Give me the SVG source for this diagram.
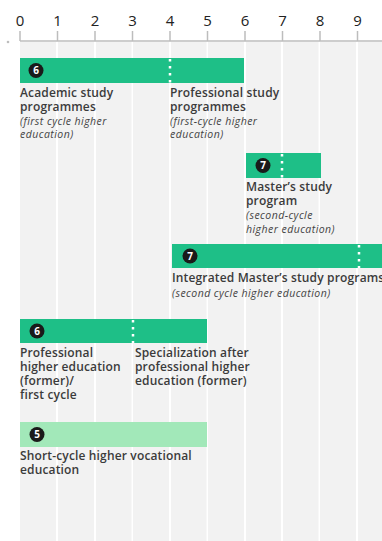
<svg xmlns="http://www.w3.org/2000/svg" width="382" height="541" viewBox="0 0 382 541">
<style>
.col{fill:#f2f2f2}
.tick{stroke:#bdbdbd;stroke-width:1.5}
.tl{font-family:"Open Sans","Liberation Sans",sans-serif;font-size:15px;fill:#222;text-anchor:middle}
.bar{fill:#1ebf87}
.bar2{fill:#a2e8b9}
.dot{stroke:#fff;stroke-width:2.5;stroke-dasharray:2.5 4.5}
.bc{fill:#1a1a1a}
.bn{font-family:"Open Sans","Liberation Sans",sans-serif;font-size:10px;font-weight:bold;fill:#fff;text-anchor:middle}
.t{font-family:"Open Sans","Liberation Sans",sans-serif;font-size:12px;font-weight:600;fill:#3b3b3b;letter-spacing:0.15px}
.i{font-family:"Open Sans","Liberation Sans",sans-serif;font-size:10.5px;font-style:italic;fill:#444;letter-spacing:0.45px}
</style>
<rect width="382" height="541" fill="#fff"/>
<g id="grid">
<rect class="col" x="20" y="42" width="36" height="499"/>
<rect class="col" x="58" y="42" width="36" height="499"/>
<rect class="col" x="96" y="42" width="35.5" height="499"/>
<rect class="col" x="133" y="42" width="36" height="499"/>
<rect class="col" x="171" y="42" width="35.5" height="499"/>
<rect class="col" x="208" y="42" width="36" height="499"/>
<rect class="col" x="246" y="42" width="35" height="499"/>
<rect class="col" x="283" y="42" width="35.5" height="499"/>
<rect class="col" x="320" y="42" width="36" height="499"/>
<rect class="col" x="358" y="42" width="24" height="499"/>
</g>
<g id="axis">
<line class="tick" x1="20" y1="41" x2="382" y2="41"/>
<circle cx="8" cy="42" r="1.3" fill="#bdbdbd"/>
<g>
<line class="tick" x1="20" y1="31" x2="20" y2="41"/>
<line class="tick" x1="57.5" y1="31" x2="57.5" y2="41"/>
<line class="tick" x1="95" y1="31" x2="95" y2="41"/>
<line class="tick" x1="132.5" y1="31" x2="132.5" y2="41"/>
<line class="tick" x1="170" y1="31" x2="170" y2="41"/>
<line class="tick" x1="207.5" y1="31" x2="207.5" y2="41"/>
<line class="tick" x1="245" y1="31" x2="245" y2="41"/>
<line class="tick" x1="282.5" y1="31" x2="282.5" y2="41"/>
<line class="tick" x1="320" y1="31" x2="320" y2="41"/>
<line class="tick" x1="357.5" y1="31" x2="357.5" y2="41"/>
</g>
<text class="tl" x="20" y="26">0</text>
<text class="tl" x="57.5" y="26">1</text>
<text class="tl" x="95" y="26">2</text>
<text class="tl" x="132.5" y="26">3</text>
<text class="tl" x="170" y="26">4</text>
<text class="tl" x="207.5" y="26">5</text>
<text class="tl" x="245" y="26">6</text>
<text class="tl" x="282.5" y="26">7</text>
<text class="tl" x="320" y="26">8</text>
<text class="tl" x="357.5" y="26">9</text>
</g>
<g id="academic">
<rect class="bar" x="20" y="58" width="224" height="25"/>
<line class="dot" x1="170" y1="59" x2="170" y2="83"/>
<circle class="bc" cx="36" cy="70.5" r="7.5"/>
<text class="bn" x="36" y="74">6</text>
<text class="t" x="20" y="97">Academic study</text>
<text class="t" x="20" y="111">programmes</text>
<text class="i" x="20" y="125">(first cycle higher</text>
<text class="i" x="20" y="138">education)</text>
<text class="t" x="170" y="97">Professional study</text>
<text class="t" x="170" y="111">programmes</text>
<text class="i" x="170" y="125">(first-cycle higher</text>
<text class="i" x="170" y="138">education)</text>
</g>
<g id="masters">
<rect class="bar" x="246" y="153" width="75" height="25"/>
<line class="dot" x1="282" y1="154" x2="282" y2="178"/>
<circle class="bc" cx="263" cy="165.5" r="7.5"/>
<text class="bn" x="263" y="169">7</text>
<text class="t" x="246" y="191">Master’s study</text>
<text class="t" x="246" y="205">program</text>
<text class="i" x="246" y="219">(second-cycle</text>
<text class="i" x="246" y="233">higher education)</text>
</g>
<g id="integrated">
<rect class="bar" x="172" y="244" width="210" height="24"/>
<line class="dot" x1="359" y1="245" x2="359" y2="268"/>
<circle class="bc" cx="190" cy="256" r="7.5"/>
<text class="bn" x="190" y="259.5">7</text>
<text class="t" x="172" y="282">Integrated Master’s study programs</text>
<text class="i" x="172" y="297">(second cycle higher education)</text>
</g>
<g id="professional">
<rect class="bar" x="20" y="319" width="187" height="24"/>
<line class="dot" x1="133" y1="320" x2="133" y2="343"/>
<circle class="bc" cx="37" cy="331" r="7.5"/>
<text class="bn" x="37" y="334.5">6</text>
<text class="t" x="20" y="357">Professional</text>
<text class="t" x="20" y="371">higher education</text>
<text class="t" x="20" y="385">(former)/</text>
<text class="t" x="20" y="399">first cycle</text>
<text class="t" x="135" y="357">Specialization after</text>
<text class="t" x="135" y="371">professional higher</text>
<text class="t" x="135" y="385">education (former)</text>
</g>
<g id="shortcycle">
<rect class="bar2" x="20" y="422" width="187" height="25"/>
<circle class="bc" cx="37" cy="434.5" r="7.5"/>
<text class="bn" x="37" y="438">5</text>
<text class="t" x="20" y="460">Short-cycle higher vocational</text>
<text class="t" x="20" y="474">education</text>
</g>
<g id="connectors"/>
</svg>
